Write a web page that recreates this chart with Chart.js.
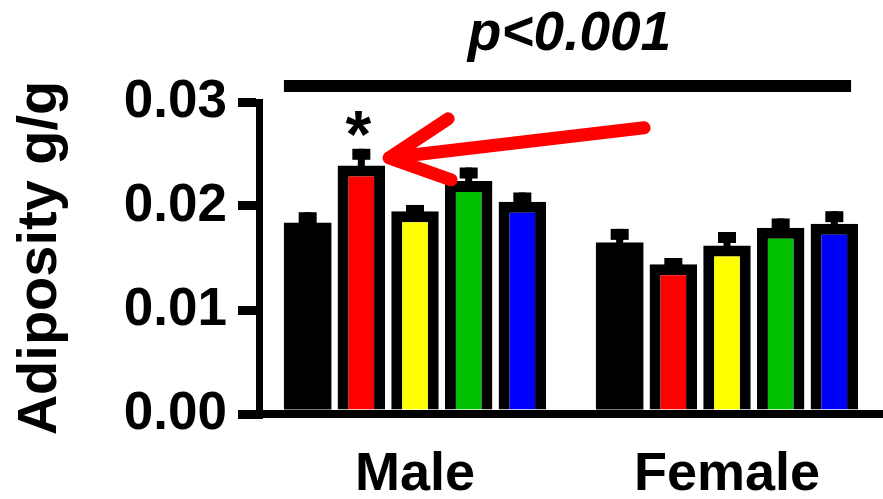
<!DOCTYPE html>
<html>
<head>
<meta charset="utf-8">
<script src="https://cdn.jsdelivr.net/npm/chart.js@4.4.1/dist/chart.umd.min.js"></script>
<style>
  html, body { margin: 0; padding: 0; background: #fff; }
  #wrap { width: 883px; height: 499px; position: relative; }
</style>
</head>
<body>
<div id="wrap"><canvas id="chart"></canvas></div>
<script>
// categories and values
const categories = ['Male', 'Female'];
const yTicks = [0.00, 0.01, 0.02, 0.03];

const blackVals = [0.0184, 0.0165];
const redVals = [0.0239, 0.0144];
const yellowVals = [0.0195, 0.0162];
const greenVals = [0.0224, 0.0179];
const blueVals = [0.0204, 0.0183];

// SEM (upper error bar only)
const blackSem = [0.0010, 0.0013];
const redSem = [0.0016, 0.0006];
const yellowSem = [0.0006, 0.0013];
const greenSem = [0.0013, 0.0009];
const blueSem = [0.0009, 0.0012];

const yTitle = 'Adiposity g/g';
const pLabel = 'p<0.001';
const starLabel = '*';

const FONT = "'Liberation Sans', Arial, Helvetica, sans-serif";

function makeSet(label, values, sem, fill) {
    return {
        label: label,
        data: values,
        sem: sem,
        backgroundColor: fill,
        borderColor: '#000000',
        // solid black bar needs no outline (avoids a seam inside it)
        borderWidth: fill === '#000000' ? 0 : 11,
        borderSkipped: 'start',
        categoryPercentage: 0.86,
        barPercentage: 0.885
    };
}

/**
 * Error bars, significance bracket, asterisk and arrow
 */
const extrasPlugin = {
    id: 'extras',
    afterDatasetsDraw(chart) {
        const ctx = chart.ctx;
        const y = chart.scales.y;
        ctx.save();
        ctx.fillStyle = '#000';

        // error bars: stem + cap
        chart.data.datasets.forEach((ds, i) => {
            const meta = chart.getDatasetMeta(i);
            meta.data.forEach((bar, j) => {
                const top = y.getPixelForValue(ds.data[j] + ds.sem[j]);
                const base = y.getPixelForValue(ds.data[j]);
                ctx.fillRect(bar.x - 3.5, top, 7, base - top + 6);
                ctx.fillRect(bar.x - 9, top, 18, 11);
            });
        });

        // bracket over all bars
        const first = chart.getDatasetMeta(0).data[0];
        const last = chart.getDatasetMeta(4).data[1];
        const bx1 = first.x - first.width / 2;
        const bx2 = last.x + last.width / 2 - 7;
        const by = y.getPixelForValue(yTicks[3]) - 16;
        ctx.fillRect(bx1, by - 6, bx2 - bx1, 12);

        ctx.font = 'italic bold 55px ' + FONT;
        ctx.textAlign = 'center';
        ctx.textBaseline = 'alphabetic';
        ctx.fillText(pLabel, (bx1 + bx2) / 2 + 2, by - 36);

        // asterisk above the male red bar
        const redBar = chart.getDatasetMeta(1).data[0];
        const capTop = y.getPixelForValue(redVals[0] + redSem[0]);
        ctx.font = 'bold 66px ' + FONT;
        const m = ctx.measureText(starLabel);
        ctx.fillText(starLabel, redBar.x - 3, capTop - 13 - m.actualBoundingBoxDescent);

        // red arrow pointing at the male red bar
        const tipX = redBar.x + redBar.width / 2 + 4;
        const tipY = capTop + 9;
        ctx.strokeStyle = '#ff0000';
        ctx.lineWidth = 13;
        ctx.lineCap = 'round';
        ctx.lineJoin = 'round';
        ctx.beginPath();
        ctx.moveTo(tipX + 255, tipY - 30);
        ctx.lineTo(tipX, tipY);
        ctx.moveTo(tipX + 59, tipY - 39);
        ctx.lineTo(tipX, tipY);
        ctx.lineTo(tipX + 62, tipY + 22);
        ctx.stroke();
        ctx.restore();
    }
};

new Chart(document.getElementById('chart'), {
    type: 'bar',
    data: {
        labels: categories,
        datasets: [
            makeSet('Black', blackVals, blackSem, '#000000'),
            makeSet('Red', redVals, redSem, '#ff0000'),
            makeSet('Yellow', yellowVals, yellowSem, '#ffff00'),
            makeSet('Green', greenVals, greenSem, '#00c000'),
            makeSet('Blue', blueVals, blueSem, '#0000ff')
        ]
    },
    options: {
        responsive: true,
        maintainAspectRatio: false,
        animation: false,
        layout: {
            padding: { top: 102, right: 0, bottom: 0, left: 0 }
        },
        plugins: {
            legend: { display: false },
            tooltip: { enabled: false }
        },
        scales: {
            x: {
                grid: { display: false },
                border: { display: true, color: '#000', width: 8 },
                ticks: {
                    color: '#000',
                    padding: 21,
                    font: { family: FONT, size: 54, weight: 'bold' }
                },
                afterFit(scale) { scale.height = 85; }
            },
            y: {
                min: 0,
                max: 0.03,
                afterBuildTicks(scale) {
                    scale.ticks = yTicks.map(v => ({ value: v }));
                },
                grid: {
                    drawOnChartArea: false,
                    drawTicks: true,
                    tickLength: 21,
                    color: '#000',
                    lineWidth: 9
                },
                border: { display: true, color: '#000', width: 7 },
                ticks: {
                    color: '#000',
                    padding: 11,
                    font: { family: FONT, size: 53, weight: 'bold' },
                    callback: v => v.toFixed(2)
                },
                title: {
                    display: true,
                    text: yTitle,
                    color: '#000',
                    padding: { top: 7, bottom: 0 },
                    font: { family: FONT, size: 56, weight: 'bold' }
                },
                afterFit(scale) { scale.width = 259; }
            }
        }
    },
    plugins: [extrasPlugin]
});
</script>
</body>
</html>
